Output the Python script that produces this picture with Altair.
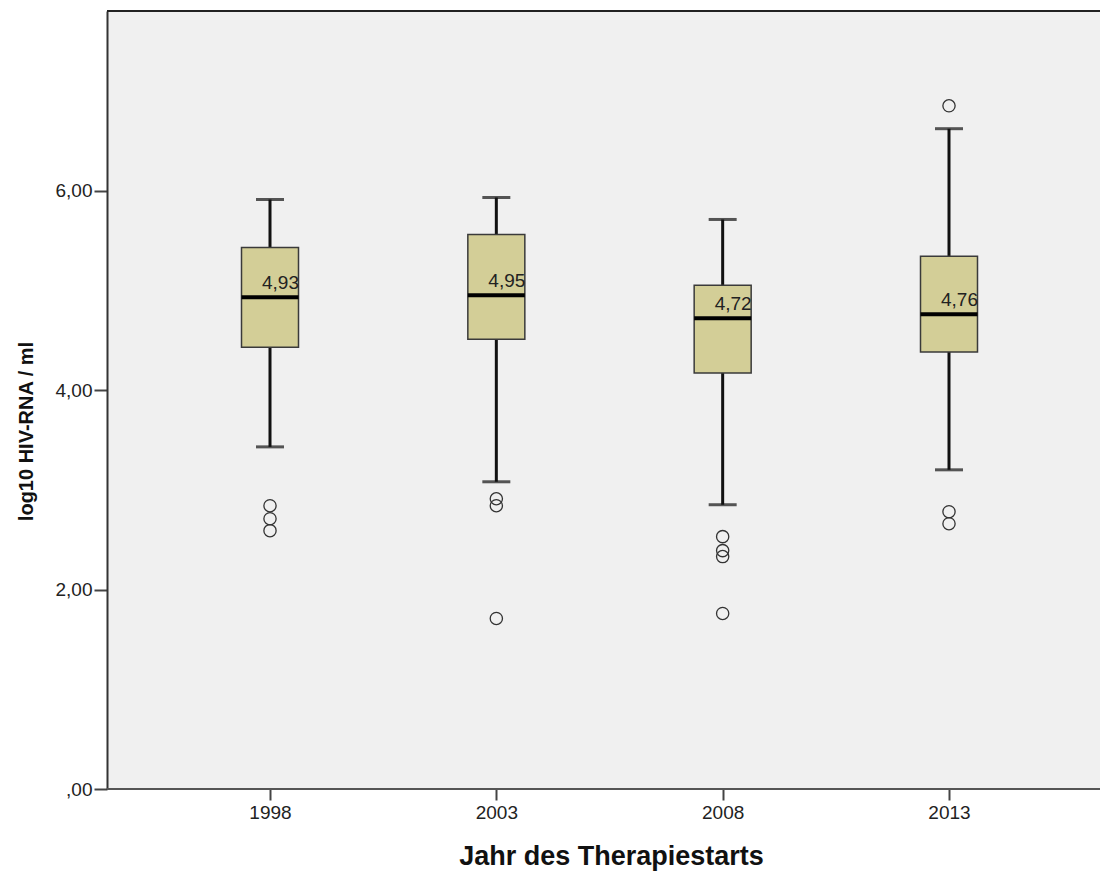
import altair as alt
import pandas as pd

years = ["1998", "2003", "2008", "2013"]
lower = [3.43, 3.08, 2.85, 3.20]
q1 = [4.43, 4.51, 4.17, 4.38]
median = [4.93, 4.95, 4.72, 4.76]
q3 = [5.43, 5.56, 5.05, 5.34]
upper = [5.91, 5.93, 5.71, 6.62]
median_labels = ["4,93", "4,95", "4,72", "4,76"]

outlier_years = ["1998", "1998", "1998", "2003", "2003", "2003",
                 "2008", "2008", "2008", "2008", "2013", "2013", "2013"]
outlier_values = [2.84, 2.71, 2.59, 2.91, 2.84, 1.71,
                  2.53, 2.39, 2.33, 1.76, 6.85, 2.78, 2.66]

stats = pd.DataFrame({
    "year": years, "lower": lower, "q1": q1, "median": median,
    "q3": q3, "upper": upper, "label": median_labels,
})
outs = pd.DataFrame({"year": outlier_years, "value": outlier_values})

W, H = 993, 778
FONT = "Liberation Sans"

x_scale = alt.Scale(type="point", domain=years, range=[163, 842], padding=0)
y_scale = alt.Scale(domain=[0, 7.8], nice=False, zero=False)

x_enc = alt.X(
    "year:N", scale=x_scale, title="Jahr des Therapiestarts",
    axis=alt.Axis(
        labelAngle=0, labelFont=FONT, labelFontSize=19, labelColor="#222",
        tickSize=11, tickColor="#444", tickWidth=2, labelPadding=3,
        domain=False,
        titleFont=FONT, titleFontSize=27, titleFontWeight="bold", titleColor="#111",
        titleX=504, titleY=67, titleBaseline="middle", titleAlign="center",
    ),
)
y_axis = alt.Axis(
    values=[0, 2, 4, 6], grid=False,
    labelExpr="datum.value == 0 ? ',00' : replace(format(datum.value, '.2f'), '.', ',')",
    labelFont=FONT, labelFontSize=19, labelColor="#222", labelPadding=2,
    tickSize=13, tickColor="#444", tickWidth=2,
    domainColor="#333", domainWidth=2,
    titleFont=FONT, titleFontSize=20, titleFontWeight="bold", titleColor="#111",
    titleX=-81, titleY=420, titleAngle=-90, titleBaseline="middle", titleAlign="center",
)

base = alt.Chart(stats)

whisker = base.mark_rule(color="#111", strokeWidth=3).encode(
    x=x_enc,
    y=alt.Y("lower:Q", scale=y_scale, axis=y_axis, title="log10 HIV-RNA / ml"),
    y2="upper:Q",
)
cap_lo = base.mark_tick(color="#111", size=28, thickness=3).encode(
    x=alt.X("year:N", scale=x_scale), y=alt.Y("lower:Q", scale=y_scale)
)
cap_hi = base.mark_tick(color="#111", size=28, thickness=3).encode(
    x=alt.X("year:N", scale=x_scale), y=alt.Y("upper:Q", scale=y_scale)
)
box = base.mark_bar(size=57, fill="#D3CE97", stroke="#3a3a3a", strokeWidth=1.5).encode(
    x=alt.X("year:N", scale=x_scale), y=alt.Y("q1:Q", scale=y_scale), y2="q3:Q"
)
med = base.mark_tick(color="#000", size=57, thickness=4, opacity=1).encode(
    x=alt.X("year:N", scale=x_scale), y=alt.Y("median:Q", scale=y_scale)
)
lbl = base.mark_text(
    align="right", baseline="alphabetic", dx=29, dy=-8,
    font=FONT, fontSize=19, color="#222",
).encode(
    x=alt.X("year:N", scale=x_scale), y=alt.Y("median:Q", scale=y_scale), text="label:N"
)
pts = alt.Chart(outs).mark_point(
    shape="circle", size=150, filled=False, color="#333", strokeWidth=1.3, opacity=1
).encode(
    x=alt.X("year:N", scale=x_scale), y=alt.Y("value:Q", scale=y_scale)
)
top_border = alt.Chart(stats).mark_rule(color="#222", strokeWidth=2).encode(
    x=alt.value(0), x2=alt.value(W), y=alt.value(0)
)
bottom_line = alt.Chart(stats).mark_rule(color="#555", strokeWidth=2).encode(
    x=alt.value(0), x2=alt.value(W), y=alt.value(H)
)

chart = alt.layer(whisker, cap_lo, cap_hi, box, med, lbl, pts, top_border, bottom_line).properties(
    width=W, height=H,
    autosize=alt.AutoSizeParams(type="none"),
    padding={"left": 99, "top": 3, "right": 0, "bottom": 84},
    background="white",
).configure_view(fill="#F0F0F0", stroke=None)

chart.save("out.html", embed_options={"renderer": "svg", "actions": False})
